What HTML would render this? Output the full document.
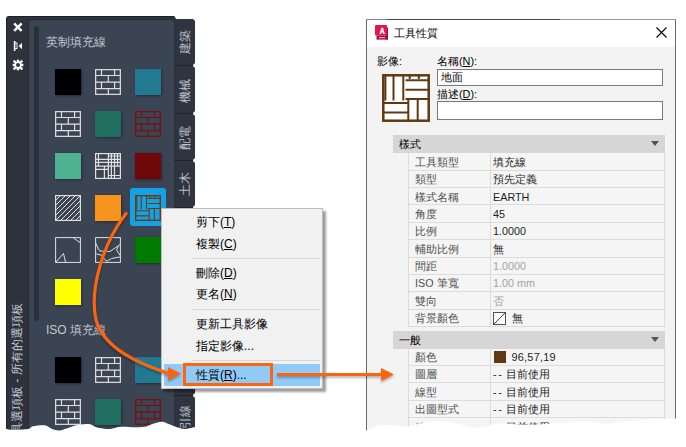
<!DOCTYPE html>
<html lang="zh-Hant"><head><meta charset="utf-8">
<style>
*{margin:0;padding:0;box-sizing:border-box}
html,body{width:686px;height:447px;overflow:hidden;background:#fff;font-family:"Liberation Sans",sans-serif}
.a{position:absolute}
.t{position:absolute;white-space:nowrap;line-height:1;font-weight:300}
u{text-decoration:underline;text-underline-offset:1px}
</style></head><body>

<div class="a" style="left:6px;top:16px;width:170px;height:420px;background:#2d323d;border-radius:3px 0 0 0;border-left:1px solid #1e2228;border-top:1px solid #1e2128;clip-path:polygon(0 0,168px 0,170px 2.5px,170px 100%,0 100%)"></div>
<div class="a" style="left:28px;top:19px;width:146px;height:417px;background:#3b4453;border-radius:3px 4px 0 0;border-left:1px solid #272b34;border-top:1px solid #272b34"></div>
<div class="a" style="left:34px;top:26px;width:5px;height:295px;background:#2a2f3a;border-radius:2.5px"></div>
<div class="t" style="left:46px;top:36px;font-size:12px;color:#c3c8d0">英制填充線</div>
<div class="t" style="left:46px;top:324px;font-size:12px;color:#c3c8d0">ISO 填充線</div>
<div class="a" style="left:176px;top:19px;width:17px;height:420px;background:#1f232b"></div>
<div class="a" style="left:176px;top:19px;width:19px;height:46px;background:#2e3440;clip-path:polygon(0 0,17px 0,19px 2px,19px calc(100% - 2px),17px 100%,0 100%)"></div>
<div class="t" style="left:178.7px;top:54.0px;font-size:12px;color:#bcc1ca;transform:rotate(-90deg);transform-origin:0 0">建築</div>
<div class="a" style="left:176px;top:66px;width:19px;height:47px;background:#2e3440;clip-path:polygon(0 0,17px 0,19px 2px,19px calc(100% - 2px),17px 100%,0 100%)"></div>
<div class="a" style="left:174px;top:65px;width:3px;height:1px;background:#1f232b"></div>
<div class="t" style="left:178.7px;top:102.5px;font-size:12px;color:#bcc1ca;transform:rotate(-90deg);transform-origin:0 0">機械</div>
<div class="a" style="left:176px;top:114px;width:19px;height:46px;background:#2e3440;clip-path:polygon(0 0,17px 0,19px 2px,19px calc(100% - 2px),17px 100%,0 100%)"></div>
<div class="a" style="left:174px;top:113px;width:3px;height:1px;background:#1f232b"></div>
<div class="t" style="left:178.7px;top:149.5px;font-size:12px;color:#bcc1ca;transform:rotate(-90deg);transform-origin:0 0">配電</div>
<div class="a" style="left:176px;top:161px;width:19px;height:46px;background:#2e3440;clip-path:polygon(0 0,17px 0,19px 2px,19px calc(100% - 2px),17px 100%,0 100%)"></div>
<div class="a" style="left:174px;top:160px;width:3px;height:1px;background:#1f232b"></div>
<div class="t" style="left:178.7px;top:196.0px;font-size:12px;color:#bcc1ca;transform:rotate(-90deg);transform-origin:0 0">土木</div>
<div class="a" style="left:176px;top:208px;width:19px;height:187px;background:#2e3440;clip-path:polygon(0 0,17px 0,19px 2px,19px calc(100% - 2px),17px 100%,0 100%)"></div>
<div class="a" style="left:174px;top:207px;width:3px;height:1px;background:#1f232b"></div>
<div class="a" style="left:176px;top:396px;width:19px;height:44px;background:#2e3440;clip-path:polygon(0 0,17px 0,19px 2px,19px calc(100% - 2px),17px 100%,0 100%)"></div>
<div class="a" style="left:174px;top:395px;width:3px;height:1px;background:#1f232b"></div>
<div class="t" style="left:178.7px;top:429px;font-size:12px;color:#bcc1ca;transform:rotate(-90deg);transform-origin:0 0">引線</div>
<svg class="a" style="left:0;top:0" width="686" height="447"><defs><filter id="bl" x="-20%" y="-20%" width="140%" height="140%"><feGaussianBlur stdDeviation="0.8"/></filter></defs><rect x="56" y="70" width="26" height="26" fill="#262a33" filter="url(#bl)"/><rect x="55" y="69" width="26" height="26" fill="#000000"/><g transform="translate(95,69)" stroke="#e0e0e0" stroke-width="1.2" fill="none"><rect x="0.65" y="0.65" width="24.7" height="24.7"/><path d="M0 6.5H26M0 13.2H26M0 19.7H26M6.5 0V6.5M19.6 0V6.5M13.3 6.5V13.2M6.5 13.2V19.7M19.6 13.2V19.7M13.3 19.7V26"/></g><rect x="136" y="70" width="26" height="26" fill="#262a33" filter="url(#bl)"/><rect x="135" y="69" width="26" height="26" fill="#217a91"/><g transform="translate(55,111)" stroke="#e0e0e0" stroke-width="1.2" fill="none"><rect x="0.65" y="0.65" width="24.7" height="24.7"/><path d="M0 6.5H26M0 13.2H26M0 19.7H26M6.5 0V6.5M19.6 0V6.5M13.3 6.5V13.2M6.5 13.2V19.7M19.6 13.2V19.7M13.3 19.7V26"/></g><rect x="96" y="112" width="26" height="26" fill="#262a33" filter="url(#bl)"/><rect x="95" y="111" width="26" height="26" fill="#1f6e5f"/><g transform="translate(135,111)" stroke="#7a0f0f" stroke-width="1.2" fill="none"><rect x="0.65" y="0.65" width="24.7" height="24.7"/><path d="M0 6.5H26M0 13.2H26M0 19.7H26M6.5 0V6.5M19.6 0V6.5M13.3 6.5V13.2M6.5 13.2V19.7M19.6 13.2V19.7M13.3 19.7V26"/></g><rect x="56" y="154" width="26" height="26" fill="#262a33" filter="url(#bl)"/><rect x="55" y="153" width="26" height="26" fill="#4db390"/><g transform="translate(95,153)" stroke="#e0e0e0" stroke-width="1.2" fill="none"><rect x="0.6" y="0.6" width="24.8" height="24.8"/><path d="M3.5 0V13.1M13.4 0V26M16.4 0V26M19.5 0V26M22.5 0V13.1M9.4 13.1V26M13.4 3H26M0 6.4H26M0 9.4H26M0 13.1H26M0 16.4H13.4M13.4 22.5H26"/></g><rect x="136" y="154" width="26" height="26" fill="#262a33" filter="url(#bl)"/><rect x="135" y="153" width="26" height="26" fill="#6e0808"/><g transform="translate(55,195)"><clipPath id="cd55195"><rect width="26" height="26"/></clipPath><g clip-path="url(#cd55195)" stroke="#e0e0e0" stroke-width="1" fill="none"><path d="M-30 26L-4 0M-25 26L1 0M-20 26L6 0M-15 26L11 0M-10 26L16 0M-5 26L21 0M0 26L26 0M5 26L31 0M10 26L36 0M15 26L41 0M20 26L46 0M25 26L51 0M30 26L56 0M35 26L61 0M40 26L66 0M45 26L71 0M50 26L76 0M55 26L81 0"/></g><rect x="0.6" y="0.6" width="24.8" height="24.8" stroke="#e0e0e0" stroke-width="1.2" fill="none"/></g><rect x="96" y="196" width="26" height="26" fill="#262a33" filter="url(#bl)"/><rect x="95" y="195" width="26" height="26" fill="#f7941d"/><rect x="130" y="188" width="36" height="38" rx="3" fill="#14a2e6"/><g transform="translate(135,195) scale(0.5416666666666666)" stroke="#6b3a12" fill="none"><rect x="1.3" y="1.3" width="45.4" height="45.4" stroke-width="2.6"/><path stroke-width="2.08" d="M3.4 0V26.5M11.5 0V26.5M21.3 0V26.5M0 29H26.3M0 38.5H26.3M26.3 25V48M35.7 25V48M23.5 6.3H48M23.5 15.7H48M23.5 25H48M27.7 0V5M36.8 0V5"/></g><g transform="translate(55,237)" stroke="#e0e0e0" stroke-width="1" fill="none"><rect x="0.6" y="0.6" width="24.8" height="24.8"/><path d="M1 25L8.5 16.5L10.5 25M18.5 1L25 5.5"/></g><g transform="translate(95,237)" stroke="#e0e0e0" stroke-width="1" fill="none"><rect x="0.6" y="0.6" width="24.8" height="24.8"/><path d="M1 6.3Q3 12 4.7 14L15 14.5L23.6 8.5L25.5 7M23.6 8.5L21.6 13.1L25.2 18.5M1.2 16.8L7.1 18.4L10.7 23.8L12.3 24L16.4 21.6L20 20.8L25 20"/></g><rect x="136" y="238" width="26" height="26" fill="#262a33" filter="url(#bl)"/><rect x="135" y="237" width="26" height="26" fill="#007a00"/><rect x="56" y="280" width="26" height="26" fill="#262a33" filter="url(#bl)"/><rect x="55" y="279" width="26" height="26" fill="#ffff00"/><rect x="56" y="358" width="26" height="26" fill="#262a33" filter="url(#bl)"/><rect x="55" y="357" width="26" height="26" fill="#000000"/><g transform="translate(95,357)" stroke="#e0e0e0" stroke-width="1.2" fill="none"><rect x="0.65" y="0.65" width="24.7" height="24.7"/><path d="M0 6.5H26M0 13.2H26M0 19.7H26M6.5 0V6.5M19.6 0V6.5M13.3 6.5V13.2M6.5 13.2V19.7M19.6 13.2V19.7M13.3 19.7V26"/></g><rect x="136" y="358" width="26" height="26" fill="#262a33" filter="url(#bl)"/><rect x="135" y="357" width="26" height="26" fill="#217a91"/><g transform="translate(55,399)" stroke="#e0e0e0" stroke-width="1.2" fill="none"><rect x="0.65" y="0.65" width="24.7" height="24.7"/><path d="M0 6.5H26M0 13.2H26M0 19.7H26M6.5 0V6.5M19.6 0V6.5M13.3 6.5V13.2M6.5 13.2V19.7M19.6 13.2V19.7M13.3 19.7V26"/></g><rect x="96" y="400" width="26" height="26" fill="#262a33" filter="url(#bl)"/><rect x="95" y="399" width="26" height="26" fill="#1f6e5f"/><g transform="translate(135,399)" stroke="#7a0f0f" stroke-width="1.2" fill="none"><rect x="0.65" y="0.65" width="24.7" height="24.7"/><path d="M0 6.5H26M0 13.2H26M0 19.7H26M6.5 0V6.5M19.6 0V6.5M13.3 6.5V13.2M6.5 13.2V19.7M19.6 13.2V19.7M13.3 19.7V26"/></g></svg>
<svg class="a" style="left:0;top:0" width="30" height="80">
<path d="M15 24.3 L20.8 30.1 M20.8 24.3 L15 30.1" stroke="#fff" stroke-width="2.4" stroke-linecap="square"/>
<rect x="13.8" y="41" width="1.6" height="10" fill="#fff"/>
<rect x="14.6" y="43" width="2.4" height="5.6" fill="none" stroke="#fff" stroke-width="0.9"/>
<path d="M18.6 46 L22 42.8 L22 49.2 Z" fill="#fff"/>
<g transform="translate(18,65)" fill="#fff">
<path d="M0 -2.9A2.9 2.9 0 1 1 0 2.9A2.9 2.9 0 1 1 0 -2.9ZM0 -1.6A1.6 1.6 0 1 0 0 1.6A1.6 1.6 0 1 0 0 -1.6Z" fill-rule="evenodd" transform="scale(1.25)"/>
<rect x="-1.2" y="-5.3" width="2.4" height="3"/><rect x="-1.2" y="2.3" width="2.4" height="3"/>
<rect x="-5.3" y="-1.2" width="3" height="2.4"/><rect x="2.3" y="-1.2" width="3" height="2.4"/>
<g transform="rotate(45)"><rect x="-1.1" y="-6.2" width="2.2" height="3.5"/><rect x="-1.1" y="2.7" width="2.2" height="3.5"/><rect x="-6.2" y="-1.1" width="3.5" height="2.2"/><rect x="2.7" y="-1.1" width="3.5" height="2.2"/></g>
</g></svg>
<div class="t" style="left:10.5px;top:446px;font-size:12px;color:#c6cad2;transform:rotate(-90deg);transform-origin:0 0">工具選項板 - 所有的選項板</div>
<div class="a" style="left:161px;top:208px;width:162px;height:181px;background:#f1f1f1;border:1px solid #bcbcbc;box-shadow:3px 3px 2px rgba(0,0,0,0.38)"></div>
<div class="a" style="left:192px;top:258px;width:128px;height:1px;background:#d7d7d7"></div>
<div class="a" style="left:192px;top:309px;width:128px;height:1px;background:#d7d7d7"></div>
<div class="a" style="left:192px;top:360px;width:128px;height:1px;background:#d7d7d7"></div>
<div class="a" style="left:164px;top:364px;width:156px;height:22px;background:#91c9f7"></div>
<div class="t" style="left:196px;top:216px;font-size:12px;color:#000">剪下(<u>T</u>)</div>
<div class="t" style="left:196px;top:238px;font-size:12px;color:#000">複製(<u>C</u>)</div>
<div class="t" style="left:196px;top:267px;font-size:12px;color:#000">刪除(<u>D</u>)</div>
<div class="t" style="left:196px;top:288px;font-size:12px;color:#000">更名(<u>N</u>)</div>
<div class="t" style="left:196px;top:317.5px;font-size:12px;color:#000">更新工具影像</div>
<div class="t" style="left:196px;top:340px;font-size:12px;color:#000">指定影像...</div>
<div class="t" style="left:196px;top:369px;font-size:12px;color:#000">性質(<u>R</u>)...</div>
<div class="a" style="left:183px;top:363px;width:89.5px;height:22.5px;border:3px solid #fb6510"></div>
<div class="a" style="left:366px;top:19px;width:310px;height:420px;background:#f3f3f3;border:1px solid #6a6a6a;border-top-color:#505050"></div>
<div class="a" style="left:367px;top:20px;width:308px;height:27px;background:#fff"></div>
<svg class="a" style="left:374px;top:24px" width="16" height="17"><rect x="12" y="3.5" width="2" height="12" fill="#a50e36"/><rect x="2.5" y="11.4" width="11.5" height="4.2" fill="#a50e36"/><rect x="1" y="1" width="12" height="10.5" rx="1" fill="#e3184d"/><path transform="translate(1.2 0.4)" d="M4.3 9.6L6.2 3.4H7.8L9.7 9.6H8.1L7.7 8.1H6.3L5.9 9.6ZM6.6 6.8H7.4L7 5.2Z" fill="#fff" fill-rule="evenodd"/><rect x="5" y="13" width="6" height="1.3" fill="#e9a6b6"/></svg>
<div class="a" style="left:366px;top:19px;width:21px;height:1px;background:#8a8a8a"></div>
<div class="a" style="left:387px;top:19px;width:173px;height:1px;background:#474747"></div>
<div class="a" style="left:560px;top:19px;width:116px;height:1px;background:#9a9a9a"></div>
<div class="t" style="left:394px;top:28px;font-size:10.8px;color:#000">工具性質</div>
<svg class="a" style="left:656px;top:27px" width="11" height="11"><path d="M0.5 0.5L10.5 10.5M10.5 0.5L0.5 10.5" stroke="#000" stroke-width="1.1"/></svg>
<div class="t" style="left:377px;top:55.5px;font-size:10.8px;color:#000">影像:</div>
<div class="t" style="left:437px;top:56px;font-size:10.8px;color:#000">名稱(<u>N</u>):</div>
<div class="a" style="left:437px;top:69px;width:226px;height:17px;background:#fff;border:1px solid #7a7a7a"></div>
<div class="t" style="left:441px;top:72px;font-size:10.8px;color:#000">地面</div>
<div class="t" style="left:437px;top:89px;font-size:10.8px;color:#000">描述(<u>D</u>):</div>
<div class="a" style="left:437px;top:101px;width:226px;height:19px;background:#fff;border:1px solid #7a7a7a"></div>
<svg class="a" style="left:382px;top:74px" width="48" height="48"><rect x="2" y="2" width="44" height="44" fill="#fff"/><g stroke="#603913" fill="none"><rect x="1.3" y="1.3" width="45.4" height="45.4" stroke-width="2.5"/><path stroke-width="2.0" d="M3.4 0V26.5M11.5 0V26.5M21.3 0V26.5M0 29H26.3M0 38.5H26.3M26.3 25V48M35.7 25V48M23.5 6.3H48M23.5 15.7H48M23.5 25H48M27.7 0V5M36.8 0V5"/></g></svg>
<div class="a" style="left:393px;top:135.3px;width:272px;height:18px;background:#d6d6d6"></div>
<div class="t" style="left:399px;top:139.3px;font-size:10.8px;color:#000">樣式</div>
<svg class="a" style="left:651px;top:141.3px" width="9" height="6"><path d="M0 0H8L4 5Z" fill="#555"/></svg>
<div class="a" style="left:408px;top:153.3px;width:257px;height:173.80px;background:#f5f5f5;border-left:1px solid #dcdcdc"></div>
<div class="a" style="left:408px;top:169.68px;width:257px;height:1px;background:#dcdcdc"></div>
<div class="t" style="left:415px;top:156.80px;font-size:10.8px;color:#505050">工具類型</div>
<div class="t" style="left:493px;top:156.80px;font-size:10.8px;color:#1e1e1e">填充線</div>
<div class="a" style="left:408px;top:187.06px;width:257px;height:1px;background:#dcdcdc"></div>
<div class="t" style="left:415px;top:174.18px;font-size:10.8px;color:#505050">類型</div>
<div class="t" style="left:493px;top:174.18px;font-size:10.8px;color:#1e1e1e">預先定義</div>
<div class="a" style="left:408px;top:204.44px;width:257px;height:1px;background:#dcdcdc"></div>
<div class="t" style="left:415px;top:191.56px;font-size:10.8px;color:#505050">樣式名稱</div>
<div class="t" style="left:493px;top:191.56px;font-size:10.8px;color:#1e1e1e">EARTH</div>
<div class="a" style="left:408px;top:221.82px;width:257px;height:1px;background:#dcdcdc"></div>
<div class="t" style="left:415px;top:208.94px;font-size:10.8px;color:#505050">角度</div>
<div class="t" style="left:493px;top:208.94px;font-size:10.8px;color:#1e1e1e">45</div>
<div class="a" style="left:408px;top:239.20px;width:257px;height:1px;background:#dcdcdc"></div>
<div class="t" style="left:415px;top:226.32px;font-size:10.8px;color:#505050">比例</div>
<div class="t" style="left:493px;top:226.32px;font-size:10.8px;color:#1e1e1e">1.0000</div>
<div class="a" style="left:408px;top:256.58px;width:257px;height:1px;background:#dcdcdc"></div>
<div class="t" style="left:415px;top:243.70px;font-size:10.8px;color:#505050">輔助比例</div>
<div class="t" style="left:493px;top:243.70px;font-size:10.8px;color:#1e1e1e">無</div>
<div class="a" style="left:408px;top:273.96px;width:257px;height:1px;background:#dcdcdc"></div>
<div class="t" style="left:415px;top:261.08px;font-size:10.8px;color:#505050">間距</div>
<div class="t" style="left:493px;top:261.08px;font-size:10.8px;color:#a3a3a3">1.0000</div>
<div class="a" style="left:408px;top:291.34px;width:257px;height:1px;background:#dcdcdc"></div>
<div class="t" style="left:415px;top:278.46px;font-size:10.8px;color:#505050">ISO 筆寬</div>
<div class="t" style="left:493px;top:278.46px;font-size:10.8px;color:#a3a3a3">1.00 mm</div>
<div class="a" style="left:408px;top:308.72px;width:257px;height:1px;background:#dcdcdc"></div>
<div class="t" style="left:415px;top:295.84px;font-size:10.8px;color:#505050">雙向</div>
<div class="t" style="left:493px;top:295.84px;font-size:10.8px;color:#a3a3a3">否</div>
<div class="a" style="left:408px;top:326.10px;width:257px;height:1px;background:#dcdcdc"></div>
<div class="t" style="left:415px;top:313.22px;font-size:10.8px;color:#505050">背景顏色</div>
<div class="t" style="left:493px;top:313.22px;font-size:10.8px;color:#1e1e1e"><span style="margin-left:19px">無</span></div>
<div class="a" style="left:490px;top:153.3px;width:1px;height:173.80px;background:#dcdcdc"></div>
<div class="a" style="left:664px;top:153.3px;width:1px;height:173.80px;background:#dcdcdc"></div>
<div class="a" style="left:393px;top:330.6px;width:272px;height:18px;background:#d6d6d6"></div>
<div class="t" style="left:399px;top:334.6px;font-size:10.8px;color:#000">一般</div>
<svg class="a" style="left:651px;top:336.6px" width="9" height="6"><path d="M0 0H8L4 5Z" fill="#555"/></svg>
<div class="a" style="left:408px;top:348.6px;width:257px;height:86.90px;background:#f5f5f5;border-left:1px solid #dcdcdc"></div>
<div class="a" style="left:408px;top:364.98px;width:257px;height:1px;background:#dcdcdc"></div>
<div class="t" style="left:415px;top:352.10px;font-size:10.8px;color:#505050">顏色</div>
<div class="t" style="left:493px;top:352.10px;font-size:10.8px;color:#1e1e1e"><span style="margin-left:18.5px;letter-spacing:0.28px">96,57,19</span></div>
<div class="a" style="left:408px;top:382.36px;width:257px;height:1px;background:#dcdcdc"></div>
<div class="t" style="left:415px;top:369.48px;font-size:10.8px;color:#505050">圖層</div>
<div class="t" style="left:493px;top:369.48px;font-size:10.8px;color:#1e1e1e"><span style="letter-spacing:1.6px">--</span><span style="margin-left:2.6px">目前使用</span></div>
<div class="a" style="left:408px;top:399.74px;width:257px;height:1px;background:#dcdcdc"></div>
<div class="t" style="left:415px;top:386.86px;font-size:10.8px;color:#505050">線型</div>
<div class="t" style="left:493px;top:386.86px;font-size:10.8px;color:#1e1e1e"><span style="letter-spacing:1.6px">--</span><span style="margin-left:2.6px">目前使用</span></div>
<div class="a" style="left:408px;top:417.12px;width:257px;height:1px;background:#dcdcdc"></div>
<div class="t" style="left:415px;top:404.24px;font-size:10.8px;color:#505050">出圖型式</div>
<div class="t" style="left:493px;top:404.24px;font-size:10.8px;color:#1e1e1e"><span style="letter-spacing:1.6px">--</span><span style="margin-left:2.6px">目前使用</span></div>
<div class="a" style="left:408px;top:434.50px;width:257px;height:1px;background:#dcdcdc"></div>
<div class="t" style="left:415px;top:421.62px;font-size:10.8px;color:#505050">線粗</div>
<div class="t" style="left:493px;top:421.62px;font-size:10.8px;color:#1e1e1e"><span style="letter-spacing:1.6px">--</span><span style="margin-left:2.6px">目前使用</span></div>
<div class="a" style="left:490px;top:348.6px;width:1px;height:86.90px;background:#dcdcdc"></div>
<div class="a" style="left:664px;top:348.6px;width:1px;height:86.90px;background:#dcdcdc"></div>
<svg class="a" style="left:493px;top:312px" width="13" height="13"><rect x="0.5" y="0.5" width="12" height="12" fill="#fff" stroke="#505050"/><path d="M1 12L12 1" stroke="#404040" stroke-width="1"/></svg>
<div class="a" style="left:494px;top:351px;width:12px;height:12px;background:#603913"></div>
<svg class="a" style="left:0;top:0;filter:drop-shadow(0.5px 2px 1.2px rgba(0,0,0,0.28))" width="686" height="447">
<path d="M126 213.5 C 104 242, 89 288, 96 320 C 104 349, 140 364, 169 373.5" stroke="#fb6510" stroke-width="3.2" stroke-linecap="round" fill="none"/>
<path d="M181 373.5 L168 367 L168 380.5 Z" fill="#fb6510"/>
<path d="M277 374.5 H382" stroke="#fb6510" stroke-width="3"/>
<path d="M394 374.5 L381 368 L381 381 Z" fill="#fb6510"/>
</svg>
<svg class="a" style="left:0;top:0" width="686" height="447">
<path d="M0 427 C0.7 427.1 2.3 427.1 4 427.5 C5.7 427.9 6.0 429.4 10 429.7 C14.0 429.9 24.2 429.6 28 429 C31.8 428.4 30.2 426.9 33 426.3 C35.8 425.7 41.8 424.9 45 425.3 C48.2 425.8 49.5 428.1 52 429 C54.5 429.9 57.0 430.7 60 430.4 C63.0 430.1 66.7 428.2 70 427.2 C73.3 426.2 76.7 425.1 80 424.6 C83.3 424.1 87.2 423.8 90 424.3 C92.8 424.8 93.7 426.7 97 427.5 C100.3 428.3 106.2 429.1 110 429 C113.8 428.9 115.8 427.1 120 426.8 C124.2 426.5 130.8 427.2 135 427.2 C139.2 427.2 142.0 427.4 145 426.8 C148.0 426.2 150.2 424.7 153 423.8 C155.8 422.9 159.2 421.6 162 421.7 C164.8 421.8 167.5 423.7 170 424.6 C172.5 425.5 174.5 426.5 177 427.2 C179.5 427.9 182.2 429.0 185 429 C187.8 429.0 190.7 427.7 194 427.2 C197.3 426.7 203.2 426.2 205 426 L205 447 L0 447 Z" fill="#fff"/>
<path d="M355 431 C356.8 430.9 363.2 430.9 366 430.4 C368.8 429.9 369.7 429.0 372 428.2 C374.3 427.4 376.2 425.8 380 425.3 C383.8 424.8 390.8 425.1 395 425.3 C399.2 425.6 401.7 426.9 405 426.8 C408.3 426.7 410.8 425.5 415 424.6 C419.2 423.8 425.0 422.2 430 421.7 C435.0 421.2 440.0 420.9 445 421.4 C450.0 421.9 455.0 423.5 460 424.5 C465.0 425.5 470.0 427.4 475 427.5 C480.0 427.6 485.8 426.0 490 425.3 C494.2 424.6 495.0 423.5 500 423.4 C505.0 423.3 513.3 424.4 520 424.6 C526.7 424.8 533.3 424.9 540 424.6 C546.7 424.3 553.3 423.5 560 423 C566.7 422.5 573.3 421.7 580 421.7 C586.7 421.7 595.5 422.6 600 423 C604.5 423.4 603.7 424.5 607 424.3 C610.3 424.1 614.5 422.4 620 421.7 C625.5 421.0 633.3 420.6 640 420.2 C646.7 419.8 654.0 419.3 660 419 C666.0 418.7 671.7 418.6 676 418.4 C680.3 418.2 684.3 418.1 686 418 L686 447 L355 447 Z" fill="#fff"/>
</svg>
</body></html>
